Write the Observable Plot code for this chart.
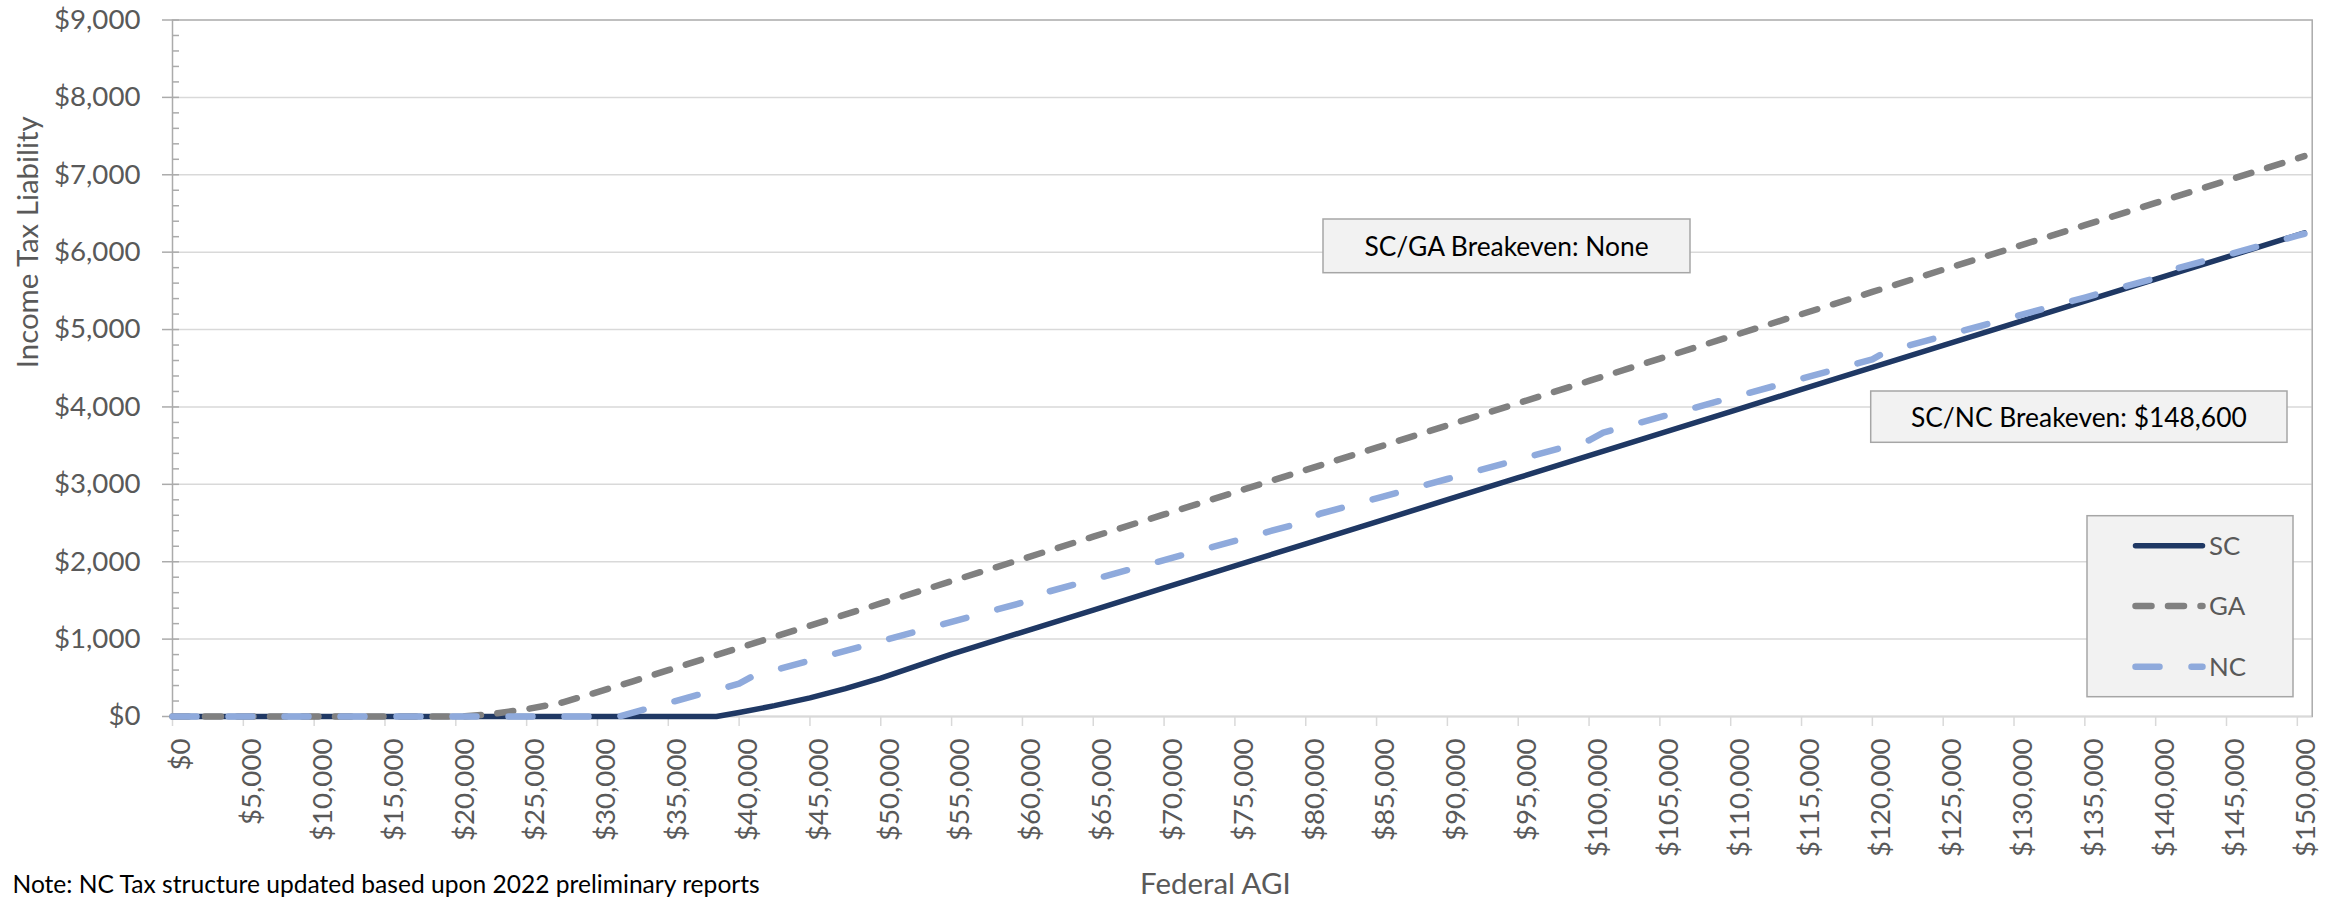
<!DOCTYPE html>
<html>
<head>
<meta charset="utf-8">
<script src="https://cdn.jsdelivr.net/npm/d3@7"></script>
<script src="https://cdn.jsdelivr.net/npm/@observablehq/plot@0.6"></script>
<style>
  html, body { margin: 0; padding: 0; background: #ffffff; }
  #chart { width: 2341px; height: 900px; }
</style>
</head>
<body>
<div id="chart"></div>
<script>
// ---------------- DATA ----------------
const xTicks = d3.range(0, 150001, 5000);
const yTicks = d3.range(0, 9001, 1000);
const yMinorTicks = d3.range(0, 9001, 200).filter(d => d % 1000 !== 0);

const scAGI = [0, 5000, 10000, 15000, 20000, 25000, 30000, 35000, 38400, 40000, 42500, 45000, 47500, 50000, 52500, 55000, 60000, 65000, 70000, 75000, 80000, 85000, 90000, 95000, 100000, 105000, 110000, 115000, 120000, 125000, 130000, 135000, 140000, 145000, 150000, 150500];
const scTax = [0, 0, 0, 0, 0, 0, 0, 0, 0, 52, 140, 240, 360, 495, 650, 806, 1091, 1376, 1661, 1946, 2231, 2516, 2801, 3086, 3371, 3656, 3941, 4226, 4511, 4796, 5081, 5366, 5651, 5936, 6221, 6250];

const gaAGI = [0, 5000, 10000, 15000, 20000, 20500, 22500, 25000, 27500, 30000, 32500, 35000, 40000, 45000, 50000, 55000, 60000, 65000, 70000, 75000, 80000, 85000, 90000, 95000, 100000, 105000, 110000, 115000, 120000, 125000, 130000, 135000, 140000, 145000, 150000, 150500];
const gaTax = [0, 0, 0, 0, 0, 0, 30, 95, 180, 315, 455, 599, 886, 1174, 1461, 1749, 2036, 2324, 2611, 2899, 3186, 3474, 3761, 4049, 4336, 4624, 4911, 5199, 5486, 5774, 6061, 6349, 6636, 6924, 7211, 7240];

const ncAGI = [0, 5000, 10000, 15000, 20000, 25000, 30000, 31500, 35000, 40000, 41000, 45000, 50000, 55000, 60000, 61000, 65000, 70000, 75000, 80000, 81000, 85000, 90000, 95000, 100000, 101000, 105000, 110000, 115000, 120000, 121000, 125000, 130000, 135000, 140000, 141000, 145000, 150000, 150500];
const ncTax = [0, 0, 0, 0, 0, 0, 0, 0, 175, 424, 524, 724, 973, 1223, 1472, 1572, 1771, 2021, 2270, 2520, 2620, 2819, 3069, 3318, 3568, 3668, 3867, 4117, 4366, 4616, 4716, 4915, 5165, 5414, 5664, 5764, 5963, 6213, 6238];

const seriesNames = ["SC", "GA", "NC"];
const annotationLabels = ["SC/GA Breakeven: None", "SC/NC Breakeven: $148,600"];
const yTitle = "Income Tax Liability";
const xTitle = "Federal AGI";
const noteText = "Note: NC Tax structure updated based upon 2022 preliminary reports";

// ---------------- STYLE ----------------
const FONT = "Lato";
const styles = {
  SC: {stroke: "#1F3864", width: 5.5, dash: null},
  GA: {stroke: "#808080", width: 6.5, dash: "16,16.5"},
  NC: {stroke: "#8FAADC", width: 6.5, dash: "24,32"}
};
const ctx = document.createElement("canvas").getContext("2d");
function fit(text, target) {
  ctx.font = `100px ${FONT}`;
  return 100 * target / ctx.measureText(text).width;
}
const tickFS = fit("$9,000", 86.5);
const titleFS = fit(yTitle, 253);
const noteFS = fit(noteText, 749);
const annFS = (fit(annotationLabels[0], 287) + fit(annotationLabels[1], 334)) / 2;
const legFS = (fit("SC", 31) + fit("GA", 37.7) + fit("NC", 36)) / 3;

const fmt = d => "$" + d3.format(",")(d);
const rows = (agi, tax) => agi.map((a, i) => ({agi: a, tax: tax[i]}));
const data = {SC: rows(scAGI, scTax), GA: rows(gaAGI, gaTax), NC: rows(ncAGI, ncTax)};

const W = 2341, H = 900;
const plot = Plot.plot({
  width: W,
  height: H,
  marginLeft: 172,
  marginRight: 29.3,
  marginTop: 19.5,
  marginBottom: 184,
  style: {fontFamily: FONT, background: "#ffffff"},
  x: {domain: [0, 151050], axis: null},
  y: {domain: [0, 9000], axis: null},
  marks: [
    Plot.gridY(yTicks.filter(d => d > 0 && d < 9000), {stroke: "#d9d9d9", strokeOpacity: 1, strokeWidth: 1.5}),
    Plot.frame({stroke: "#ababab", strokeWidth: 1.5}),
    Plot.ruleY([0], {stroke: "#d9d9d9", strokeWidth: 1.5}),
    Plot.axisX({ticks: xTicks, tickSize: 10, stroke: "#d9d9d9", strokeWidth: 1.5, fill: "none", label: null}),
    Plot.axisX({ticks: xTicks, tickSize: 10, tickPadding: 12, tickRotate: -90, stroke: "none", fill: "#595959",
      fontSize: tickFS, tickFormat: fmt, dx: 9, label: null}),
    Plot.axisY({ticks: yTicks, tickSize: 17, dx: 7, stroke: "#ababab", strokeWidth: 1.5, fill: "none", label: null}),
    Plot.axisY({ticks: yMinorTicks, tickSize: 7, dx: 7, stroke: "#ababab", strokeWidth: 1.5, fill: "none", label: null}),
    Plot.axisY({ticks: yTicks, tickSize: 0, tickPadding: 32, stroke: "none", fill: "#595959",
      fontSize: tickFS, tickFormat: fmt, label: null}),
    ...seriesNames.map(n => Plot.line(data[n], {
      x: "agi", y: "tax", stroke: styles[n].stroke, strokeWidth: styles[n].width,
      strokeDasharray: styles[n].dash, strokeLinecap: "round", strokeLinejoin: "round"
    })),
    Plot.text([yTitle], {text: d => d, frameAnchor: "left", dx: -144, rotate: -90, fill: "#595959", fontSize: titleFS}),
    Plot.text([xTitle], {text: d => d, frameAnchor: "bottom", dx: -27, dy: 168, lineAnchor: "middle", fill: "#595959", fontSize: titleFS}),
    Plot.text([noteText], {text: d => d, frameAnchor: "bottom-left", textAnchor: "start", lineAnchor: "bottom",
      dx: -160, dy: 176.5, fill: "#000000", fontSize: noteFS})
  ]
});
document.getElementById("chart").appendChild(plot);

// ---------------- ANNOTATIONS & LEGEND (overlay inside the SVG) ----------------
const svg = d3.select(plot);
const boxes = [
  {x: 1323, y: 219, w: 367, h: 53.7},
  {x: 1870.7, y: 391, w: 416.3, h: 51.3}
];
annotationLabels.forEach((label, i) => {
  const b = boxes[i];
  const g = svg.append("g");
  g.append("rect").attr("x", b.x).attr("y", b.y).attr("width", b.w).attr("height", b.h)
    .attr("fill", "#f2f2f2").attr("stroke", "#a6a6a6").attr("stroke-width", 1.5);
  g.append("text").attr("x", b.x + b.w / 2).attr("y", b.y + b.h / 2 + 1).attr("dy", "0.35em")
    .attr("text-anchor", "middle").attr("fill", "#000000")
    .attr("font-family", FONT).attr("font-size", annFS).text(label);
});

const leg = svg.append("g");
leg.append("rect").attr("x", 2087).attr("y", 515.7).attr("width", 206).attr("height", 181)
  .attr("fill", "#f2f2f2").attr("stroke", "#a6a6a6").attr("stroke-width", 1.5);
const legY = [545.7, 606, 666.7];
seriesNames.forEach((n, i) => {
  const s = styles[n];
  leg.append("line").attr("x1", 2135.5).attr("x2", 2202.5).attr("y1", legY[i]).attr("y2", legY[i])
    .attr("stroke", s.stroke).attr("stroke-width", s.width).attr("stroke-linecap", "round")
    .attr("stroke-dasharray", s.dash);
  leg.append("text").attr("x", 2209).attr("y", legY[i]).attr("dy", "0.35em")
    .attr("text-anchor", "start").attr("fill", "#595959")
    .attr("font-family", FONT).attr("font-size", legFS).text(n);
});
</script>
</body>
</html>
